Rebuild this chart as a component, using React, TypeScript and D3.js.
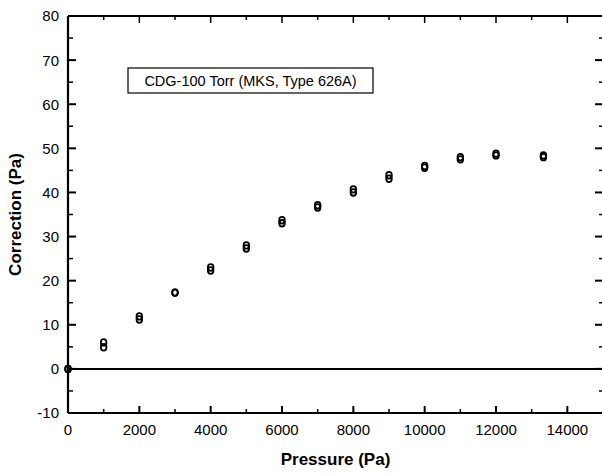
import React from "react";
import * as d3 from "d3";

// pressure set points (Pa) and the two measured correction runs (Pa)
const pressure = [0, 1000, 2000, 3000, 4000, 5000, 6000, 7000, 8000, 9000, 10000, 11000, 12000, 13330];
const runA = [0, 6.0, 11.9, 17.3, 23.0, 28.0, 33.7, 37.1, 40.7, 43.9, 46.0, 48.0, 48.8, 48.4];
const runB = [0, 4.9, 11.2, 17.3, 22.3, 27.3, 33.0, 36.6, 40.0, 43.1, 45.6, 47.5, 48.4, 48.0];

const xTicks = [0, 2000, 4000, 6000, 8000, 10000, 12000, 14000];
const yTicks = [-10, 0, 10, 20, 30, 40, 50, 60, 70, 80];
const boxLabel = "CDG-100 Torr (MKS, Type 626A)";

const W = 602;
const H = 474;
const margin = { top: 16, right: 0, bottom: 61, left: 68 };

export default function App() {
  const x = d3.scaleLinear().domain([0, 15000]).range([margin.left, 603]);
  const y = d3.scaleLinear().domain([-10, 80]).range([H - margin.bottom, margin.top]);

  const x0 = x(0);
  const x1 = x(15000);
  const yb = y(-10);
  const yt = y(80);

  const xMinor = d3.range(1000, 15000, 2000);
  const yMinor = d3.range(-5, 80, 10);

  const font = "'Liberation Sans', Arial, sans-serif";

  return (
    <svg
      width={W}
      height={H}
      style={{ position: "absolute", left: 0, top: 0, background: "#fff" }}
      fontFamily={font}
    >
      {/* zero line */}
      <line x1={x0} x2={x1} y1={y(0)} y2={y(0)} stroke="#000" strokeWidth={2} />

      {/* frame (right edge falls just outside the picture) */}
      <line x1={x0} x2={x0} y1={yt} y2={yb} stroke="#000" strokeWidth={2.2} />
      <line x1={x0} x2={x1} y1={yb} y2={yb} stroke="#000" strokeWidth={2.2} />
      <line x1={x0} x2={x1} y1={yt} y2={yt} stroke="#000" strokeWidth={1.8} />
      <line x1={x1 + 1} x2={x1 + 1} y1={yt} y2={yb} stroke="#000" strokeWidth={1.8} />

      {/* y ticks, left and right, pointing inward */}
      {yTicks.map((t) => (
        <g key={"y" + t}>
          <line x1={x0} x2={x0 + 8} y1={y(t)} y2={y(t)} stroke="#000" strokeWidth={2} />
          <line x1={x1} x2={x1 - 8} y1={y(t)} y2={y(t)} stroke="#000" strokeWidth={2} />
          <text x={x0 - 9} y={y(t)} dy="0.36em" textAnchor="end" fontSize={15}>
            {t}
          </text>
        </g>
      ))}
      {yMinor.map((t) => (
        <g key={"ym" + t}>
          <line x1={x0} x2={x0 + 5} y1={y(t)} y2={y(t)} stroke="#000" strokeWidth={1.5} />
          <line x1={x1} x2={x1 - 4} y1={y(t)} y2={y(t)} stroke="#000" strokeWidth={1.5} />
        </g>
      ))}

      {/* x ticks, bottom and top */}
      {xTicks.map((t) => (
        <g key={"x" + t}>
          <line x1={x(t)} x2={x(t)} y1={yb} y2={yb - 7} stroke="#000" strokeWidth={2} />
          <line x1={x(t)} x2={x(t)} y1={yt} y2={yt + 7} stroke="#000" strokeWidth={1.5} />
          <text x={x(t)} y={yb + 22} textAnchor="middle" fontSize={15}>
            {t}
          </text>
        </g>
      ))}
      {xMinor.map((t) => (
        <g key={"xm" + t}>
          <line x1={x(t)} x2={x(t)} y1={yb} y2={yb - 4} stroke="#000" strokeWidth={1.5} />
          <line x1={x(t)} x2={x(t)} y1={yt} y2={yt + 4} stroke="#000" strokeWidth={1.5} />
        </g>
      ))}

      {/* data */}
      {[runA, runB].map((run, k) =>
        run.map((v, i) => (
          <ellipse
            key={k + "-" + i}
            cx={x(pressure[i])}
            cy={y(v)}
            rx={2.8}
            ry={3.3}
            fill="none"
            stroke="#000"
            strokeWidth={1.8}
          />
        ))
      )}

      {/* annotation box */}
      <rect x={128} y={68} width={245} height={25} fill="#fff" stroke="#000" strokeWidth={1.2} />
      <text x={250.5} y={86} textAnchor="middle" fontSize={14.5}>
        {boxLabel}
      </text>

      {/* axis titles */}
      <text x={(x0 + x1) / 2} y={465} textAnchor="middle" fontSize={17} fontWeight="bold">
        Pressure (Pa)
      </text>
      <text
        transform={`translate(21,${(yt + yb) / 2}) rotate(-90)`}
        textAnchor="middle"
        fontSize={17}
        fontWeight="bold"
      >
        Correction (Pa)
      </text>
    </svg>
  );
}
